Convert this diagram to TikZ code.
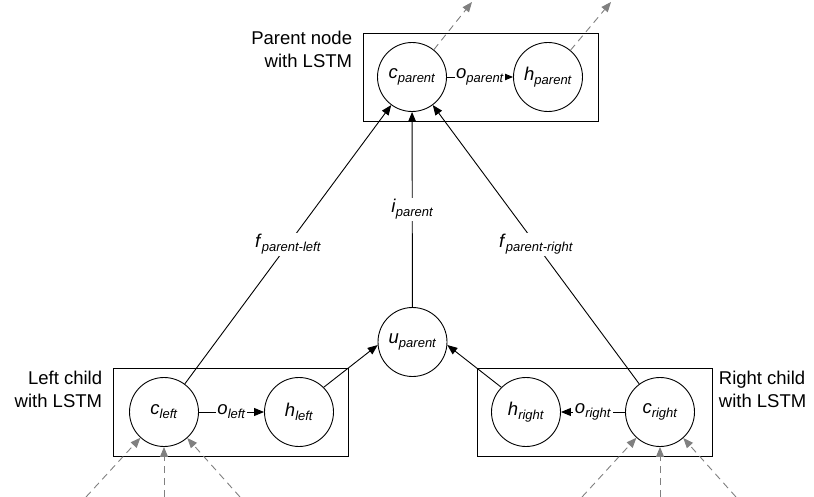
\documentclass[tikz,border=0pt]{standalone}
\usepackage{fontspec}
\setmainfont{Liberation Sans}
\usetikzlibrary{arrows.meta,positioning}
\definecolor{extgray}{RGB}{128,128,128}
\newcommand{\lstmvar}[2]{\textit{#1}\raisebox{-4pt}{\fontsize{13}{13}\selectfont\textit{#2}}}

\begin{document}
\begin{tikzpicture}[x=1pt, y=-1pt, line width=0.9pt,
    every node/.style={font=\fontsize{18.5}{23}\selectfont},
    cell/.style={draw, circle, minimum size=69pt, inner sep=0pt},
    unit/.style={draw, minimum width=235pt, minimum height=88pt, inner sep=0pt},
    caption/.style={inner sep=0pt, align=#1},
    gate/.style={fill=white, inner sep=1.5pt},
    arr/.style={-{Triangle[length=10pt,width=8pt]}},
    ext/.style={arr, dash pattern=on 7pt off 5pt, color=extgray}]
  \useasboundingbox (0,0) rectangle (814,497);
  \node[unit] (parbox) at (480.5,77) {};
  \node[unit] (leftbox) at (230.5,412) {};
  \node[unit] (rightbox) at (594.5,412) {};
  \node[caption=right, below left=-2pt and 10pt of parbox.north west] (partxt) {Parent node\\with LSTM};
  \node[caption=right, below left=3pt and 10pt of leftbox.north west] (lefttxt) {Left child\\with LSTM};
  \node[caption=left, below right=3pt and 6pt of rightbox.north east] (righttxt) {Right child\\with LSTM};
  \node[cell] (cpar) at (412,77) {\lstmvar{c}{parent}};
  \node[cell] (hpar) at (548,77) {\lstmvar{h}{parent}};
  \node[cell] (upar) at (412.5,342) {\lstmvar{u}{parent}};
  \node[cell] (cleft) at (164,412) {\lstmvar{c}{left}};
  \node[cell] (hleft) at (299,412) {\lstmvar{h}{left}};
  \node[cell] (hright) at (526,412) {\lstmvar{h}{right}};
  \node[cell] (cright) at (660,412) {\lstmvar{c}{right}};
  \draw[arr] (cpar) -- node[gate] {\lstmvar{o}{parent}} (hpar);
  \draw[arr] (cleft) -- node[gate] {\lstmvar{o}{left}} (hleft);
  \draw[arr] (cright) -- node[gate] {\lstmvar{o}{right}} (hright);
  \draw[arr] (cleft) -- node[gate] {\lstmvar{f}{parent-left}} (cpar);
  \draw[arr] (cright) -- node[gate] {\lstmvar{f}{parent-right}} (cpar);
  \draw[arr] (upar) -- node[gate] {\lstmvar{i}{parent}} (cpar);
  \draw[arr] (hleft.45) -- (upar.185);
  \draw[arr] (hright.135) -- (upar.355);
  \coordinate (cparout) at (472,2);
  \coordinate (hparout) at (611,2);
  \draw[ext] (cpar) -- (cparout);
  \draw[ext] (hpar) -- (hparout);
  \foreach \dx [count=\i] in {-78,0,76} {
    \coordinate (leftin\i) at (164+\dx,497);
    \coordinate (rightin\i) at (660+\dx,497);
    \draw[ext] (leftin\i) -- (cleft);
    \draw[ext] (rightin\i) -- (cright);
  }
\end{tikzpicture}
\end{document}
